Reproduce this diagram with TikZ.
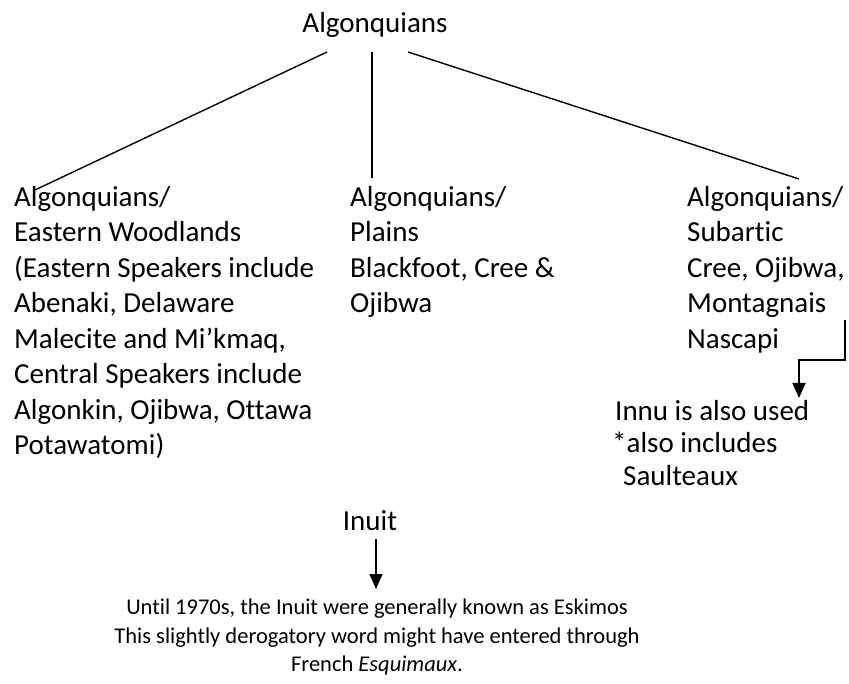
\documentclass[tikz,border=0pt]{standalone}
\usepackage{fontspec}
\setmainfont{Carlito}[Ligatures=NoCommon]
\usetikzlibrary{arrows.meta}

\begin{document}
\begin{tikzpicture}[
			     x=1pt, y=-1pt,
			     every node/.style={inner sep=0pt},
			     big text/.style={font=\fontsize{29}{35.5}\selectfont, align=left, anchor=north west},
			     small text/.style={font=\fontsize{22.5}{28.5}\selectfont, align=center, anchor=north},
			     tree line/.style={line width=1.4pt},
			     down arrow/.style={line width=1.8pt, -{Triangle[width=13pt,length=15pt]}}
			     ]
\useasboundingbox (0,0) rectangle (849,684);
\node[font=\fontsize{29}{35.5}\selectfont, anchor=base] (alg) at (375,33) {Algonquians};
\node[big text] (woods) at (14,186) {Algonquians/\\Eastern Woodlands\\(Eastern Speakers include\\Abenaki, Delaware\\Malecite and Mi’kmaq,\\Central Speakers include\\Algonkin, Ojibwa, Ottawa\\Potawatomi)};
\node[big text] (plains) at (350,186) {Algonquians/\\Plains\\Blackfoot, Cree \&\\Ojibwa};
\node[big text] (subarc) at (687,186) {Algonquians/\\Subartic\\Cree, Ojibwa,\\Montagnais\\Nascapi};
\node[font=\fontsize{29}{32.5}\selectfont, align=left, anchor=north west] (innu) at (612,400) {\hspace*{3pt}Innu is also used\\*also includes\\\hspace*{11pt}Saulteaux};
\node[font=\fontsize{29}{35.5}\selectfont, anchor=base] (inuit) at (370,530) {Inuit};
\node[small text] (eskimo) at (377,599) {Until 1970s, the Inuit were generally known as Eskimos\\This slightly derogatory word might have entered through\\French \textit{Esquimaux}.};
\coordinate (bend) at (845,320);
\coordinate (innu tip) at (799,398);
% branches
\draw[tree line] ([xshift=-48pt,yshift=-19pt]alg.base) -- ([xshift=21pt,yshift=-4pt]woods.north west);
\draw[tree line] ([xshift=-3pt,yshift=-19pt]alg.base) -- ([xshift=22pt,yshift=8pt]plains.north west);
\draw[tree line] ([xshift=33pt,yshift=-19pt]alg.base) -- ([xshift=112pt,yshift=7pt]subarc.north west);
% arrows
\draw[down arrow] (bend) -- ++(0,40) -| (innu tip);
\draw[down arrow] ([xshift=6pt,yshift=-9pt]inuit.base) -- ([xshift=-1pt,yshift=10pt]eskimo.north);
\end{tikzpicture}
\end{document}
